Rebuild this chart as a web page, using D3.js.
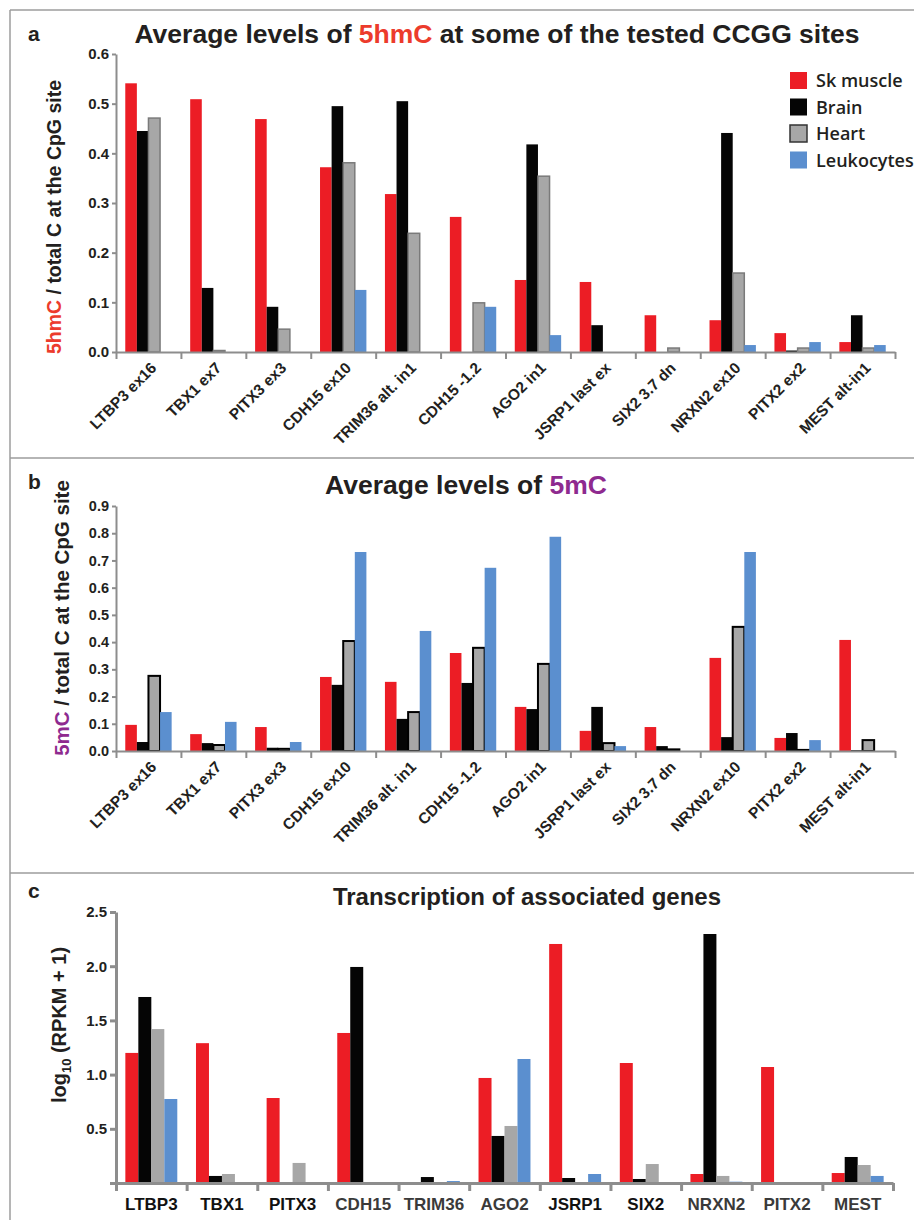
<!DOCTYPE html>
<html>
<head>
<meta charset="utf-8">
<script src="https://cdn.jsdelivr.net/npm/d3@7"></script>
<style>
  body { margin: 0; background: #fff; }
  svg { display: block; font-family: "Liberation Sans", Arial, sans-serif; }
</style>
</head>
<body>
<div id="chart"></div>
<script>
// values
const tissues = ['Sk muscle', 'Brain', 'Heart', 'Leukocytes'];

const sites = ['LTBP3 ex16', 'TBX1 ex7', 'PITX3 ex3', 'CDH15 ex10', 'TRIM36 alt. in1', 'CDH15 -1.2',
  'AGO2 in1', 'JSRP1 last ex', 'SIX2 3.7 dn', 'NRXN2 ex10', 'PITX2 ex2', 'MEST alt-in1'];

// a - 5hmC / total C
const hmcSkMuscle = [0.541, 0.509, 0.469, 0.372, 0.318, 0.272, 0.145, 0.141, 0.074, 0.064, 0.038, 0.020];
const hmcBrain = [0.445, 0.129, 0.091, 0.495, 0.505, 0, 0.418, 0.054, 0, 0.441, 0.003, 0.074];
const hmcHeart = [0.471, 0.003, 0.046, 0.381, 0.239, 0.099, 0.354, 0, 0.008, 0.159, 0.008, 0.008];
const hmcLeukocytes = [0, 0, 0, 0.125, 0, 0.091, 0.034, 0, 0, 0.014, 0.020, 0.014];
const hmcTicks = [0, 0.1, 0.2, 0.3, 0.4, 0.5, 0.6];

// b - 5mC / total C
const mcSkMuscle = [0.096, 0.062, 0.088, 0.272, 0.254, 0.360, 0.162, 0.074, 0.088, 0.342, 0.048, 0.408];
const mcBrain = [0.033, 0.029, 0.012, 0.243, 0.118, 0.250, 0.154, 0.162, 0.018, 0.051, 0.066, 0.003];
const mcHeart = [0.276, 0.022, 0.008, 0.404, 0.143, 0.379, 0.320, 0.029, 0.006, 0.456, 0.004, 0.040];
const mcLeukocytes = [0.143, 0.107, 0.033, 0.731, 0.441, 0.673, 0.787, 0.018, 0, 0.731, 0.040, 0];
const mcTicks = [0, 0.1, 0.2, 0.3, 0.4, 0.5, 0.6, 0.7, 0.8, 0.9];

// c - transcription, log10(RPKM + 1)
const genes = ['LTBP3', 'TBX1', 'PITX3', 'CDH15', 'TRIM36', 'AGO2', 'JSRP1', 'SIX2', 'NRXN2', 'PITX2', 'MEST'];
const rpkmSkMuscle = [1.20, 1.29, 0.784, 1.384, 0, 0.969, 2.205, 1.107, 0.083, 1.07, 0.092];
const rpkmBrain = [1.716, 0.065, 0, 1.993, 0.055, 0.434, 0.046, 0.037, 2.297, 0, 0.24];
const rpkmHeart = [1.42, 0.083, 0.185, 0, 0, 0.526, 0, 0.175, 0.065, 0, 0.166];
const rpkmLeukocytes = [0.775, 0, 0, 0, 0.018, 1.144, 0.083, 0, 0.012, 0, 0.065];
const rpkmTicks = [0, 0.5, 1.0, 1.5, 2.0, 2.5];

// genes printed in black in panel c (the rest are dark grey)
const darkGenes = ['LTBP3', 'TBX1', 'PITX3', 'JSRP1', 'SIX2'];

const colors = { 'Sk muscle': '#ec1d25', 'Brain': '#050505', 'Heart': '#a7a7a7', 'Leukocytes': '#5b8fcf' };
const ink = '#231f20';
const axisGrey = '#8d8d8d';

const W = 914, H = 1220;
const svg = d3.select('#chart').append('svg')
  .attr('width', W)
  .attr('height', H);

svg.append('rect').attr('width', W).attr('height', H).attr('fill', '#fff');

// panel frame lines
[10, 458, 873].forEach(y => {
  svg.append('line').attr('x1', 10).attr('x2', W).attr('y1', y).attr('y2', y)
    .attr('stroke', '#9d9d9d').attr('stroke-width', 1.5);
});
svg.append('line').attr('x1', 10).attr('x2', 10).attr('y1', 10).attr('y2', H)
  .attr('stroke', '#9d9d9d').attr('stroke-width', 1.5);

function drawPanel(cfg) {
  const g = svg.append('g');
  const n = cfg.categories.length;

  const x0 = d3.scaleBand()
    .domain(cfg.categories)
    .range([cfg.left, cfg.right])
    .padding(0);

  const x1 = d3.scaleBand()
    .domain(tissues)
    .range([0, x0.bandwidth()])
    .paddingInner(0)
    .paddingOuter(cfg.outerPad);

  const y = d3.scaleLinear()
    .domain([0, d3.max(cfg.ticks)])
    .range([cfg.bottom, cfg.top]);

  const rows = [];
  cfg.categories.forEach((c, i) => {
    tissues.forEach((t, k) => {
      const v = cfg.series[k][i];
      if (v > 0) rows.push({ cat: c, tissue: t, value: v });
    });
  });

  g.selectAll('rect.bar')
    .data(rows)
    .join('rect')
    .attr('class', 'bar')
    .attr('x', d => x0(d.cat) + x1(d.tissue))
    .attr('y', d => y(d.value))
    .attr('width', x1.bandwidth())
    .attr('height', d => y(0) - y(d.value))
    .attr('fill', d => colors[d.tissue])
    .attr('stroke', d => d.tissue === 'Heart' ? cfg.heartStroke : 'none')
    .attr('stroke-width', d => d.tissue === 'Heart' ? cfg.heartStrokeWidth : 0);

  // y axis
  const yAxis = g.append('g')
    .attr('transform', `translate(${cfg.left},0)`)
    .call(d3.axisLeft(y)
      .tickValues(cfg.ticks)
      .tickSize(cfg.tickLen)
      .tickSizeOuter(0)
      .tickFormat(d => (cfg.hideZero && d === 0) ? '' : d3.format('.1f')(d)));
  yAxis.select('.domain').attr('stroke', axisGrey).attr('stroke-width', cfg.axisWidth);
  yAxis.selectAll('.tick line').attr('stroke', axisGrey).attr('stroke-width', cfg.axisWidth);
  yAxis.selectAll('.tick text')
    .attr('x', -cfg.tickLen - 3)
    .attr('fill', ink)
    .style('font-size', cfg.tickFont + 'px')
    .style('font-weight', 'bold');

  // x axis: ticks on category boundaries
  const xb = d3.scaleLinear().domain([0, n]).range([cfg.left, cfg.right]);
  const xAxis = g.append('g')
    .attr('transform', `translate(0,${cfg.bottom})`)
    .call(d3.axisBottom(xb)
      .tickValues(d3.range(n + 1))
      .tickSize(cfg.xTickLen)
      .tickSizeOuter(0)
      .tickFormat(''));
  xAxis.select('.domain').attr('stroke', axisGrey).attr('stroke-width', cfg.axisWidth);
  xAxis.selectAll('.tick line').attr('stroke', axisGrey).attr('stroke-width', cfg.axisWidth);

  // category labels
  if (cfg.rotate) {
    g.selectAll('text.cat')
      .data(cfg.categories)
      .join('text')
      .attr('class', 'cat')
      .attr('transform', d => `translate(${x0(d) + x0.bandwidth() / 2 + 9},${cfg.bottom + 17}) rotate(-45)`)
      .attr('text-anchor', 'end')
      .attr('fill', ink)
      .style('font-size', cfg.catFont + 'px')
      .style('font-weight', 'bold')
      .text(d => d);
  } else {
    g.selectAll('text.cat')
      .data(cfg.categories)
      .join('text')
      .attr('class', 'cat')
      .attr('x', d => x0(d) + x0.bandwidth() / 2)
      .attr('y', cfg.bottom + 27)
      .attr('text-anchor', 'middle')
      .attr('fill', d => darkGenes.includes(d) ? '#111' : '#3a3a3a')
      .style('font-size', cfg.catFont + 'px')
      .style('font-weight', 'bold')
      .text(d => d);
  }

  // panel letter
  svg.append('text')
    .attr('x', 28).attr('y', cfg.letterY)
    .attr('fill', ink)
    .style('font-size', '21px')
    .style('font-weight', 'bold')
    .text(cfg.letter);

  // title
  const title = svg.append('text')
    .attr('x', cfg.titleX).attr('y', cfg.titleY)
    .attr('text-anchor', 'middle')
    .attr('fill', ink)
    .style('font-size', cfg.titleFont + 'px')
    .style('font-weight', 'bold');
  cfg.title.forEach(p => title.append('tspan').attr('fill', p.color || ink).text(p.text));

  // y label
  const yl = svg.append('text')
    .attr('transform', `translate(${cfg.yLabelX},${cfg.yLabelY}) rotate(-90)`)
    .attr('text-anchor', 'middle')
    .attr('fill', ink)
    .style('font-size', cfg.yLabelFont + 'px')
    .style('font-weight', 'bold');
  cfg.yLabel.forEach(p => {
    const ts = yl.append('tspan').attr('fill', p.color || ink).text(p.text);
    if (p.sub) ts.style('font-size', '13px').attr('dy', 5);
    if (p.after) ts.attr('dy', -5);
  });

  return { x0, x1, y };
}

drawPanel({
  letter: 'a', letterY: 41,
  categories: sites,
  series: [hmcSkMuscle, hmcBrain, hmcHeart, hmcLeukocytes],
  ticks: hmcTicks,
  left: 116, right: 895, top: 54, bottom: 352,
  outerPad: 0.8,
  heartStroke: '#7a7a7a', heartStrokeWidth: 1.5,
  axisWidth: 2, tickLen: 4, xTickLen: 7,
  tickFont: 15, catFont: 15.5, rotate: true,
  titleX: 497, titleY: 43, titleFont: 26.5,
  title: [{ text: 'Average levels of ' }, { text: '5hmC', color: '#ec3b2c' }, { text: ' at some of the tested CCGG sites' }],
  yLabelX: 61, yLabelY: 217, yLabelFont: 19.5,
  yLabel: [{ text: '5hmC', color: '#ec3b2c' }, { text: ' / total C at the CpG site' }]
});

drawPanel({
  letter: 'b', letterY: 489,
  categories: sites,
  series: [mcSkMuscle, mcBrain, mcHeart, mcLeukocytes],
  ticks: mcTicks,
  left: 116, right: 895, top: 506, bottom: 751,
  outerPad: 0.8,
  heartStroke: '#000', heartStrokeWidth: 2,
  axisWidth: 2, tickLen: 4, xTickLen: 7,
  tickFont: 14.5, catFont: 15.5, rotate: true,
  titleX: 466, titleY: 494, titleFont: 26.5,
  title: [{ text: 'Average levels of ' }, { text: '5mC', color: '#8e2a8f' }],
  yLabelX: 69, yLabelY: 618, yLabelFont: 20.5,
  yLabel: [{ text: '5mC', color: '#8e2a8f' }, { text: ' / total C at the CpG site' }]
});

drawPanel({
  letter: 'c', letterY: 898,
  categories: genes,
  series: [rpkmSkMuscle, rpkmBrain, rpkmHeart, rpkmLeukocytes],
  ticks: rpkmTicks,
  left: 116, right: 893, top: 912, bottom: 1183,
  outerPad: 0.72,
  heartStroke: 'none', heartStrokeWidth: 0,
  axisWidth: 3, tickLen: 6, xTickLen: 8, hideZero: true,
  tickFont: 15, catFont: 17, rotate: false,
  titleX: 527, titleY: 905, titleFont: 24,
  title: [{ text: 'Transcription of associated genes' }],
  yLabelX: 66, yLabelY: 1025, yLabelFont: 20,
  yLabel: [{ text: 'log' }, { text: '10', sub: true }, { text: '  (RPKM + 1)', after: true }]
});

// legend (panel a)
const legend = svg.append('g').attr('transform', 'translate(790,72)');
tissues.forEach((t, i) => {
  legend.append('rect')
    .attr('x', 0).attr('y', i * 26.5)
    .attr('width', 17).attr('height', 17)
    .attr('fill', colors[t])
    .attr('stroke', t === 'Heart' ? '#333' : 'none')
    .attr('stroke-width', t === 'Heart' ? 1.5 : 0);
  legend.append('text')
    .attr('x', 26).attr('y', i * 26.5 + 15)
    .attr('fill', ink)
    .style('font-family', '"Open Sans", sans-serif')
    .style('font-weight', 600)
    .style('font-size', '18px')
    .text(t);
});
</script>
</body>
</html>
